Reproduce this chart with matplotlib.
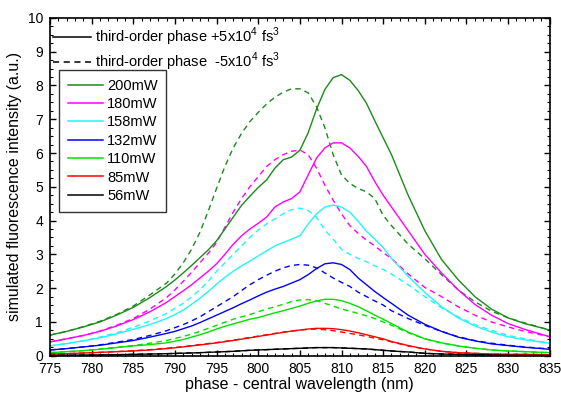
import matplotlib
matplotlib.use("Agg")
from matplotlib import pyplot as plt
from matplotlib.lines import Line2D
from matplotlib.ticker import MultipleLocator

plt.rcParams["font.family"] = ["Liberation Sans", "DejaVu Sans"]
plt.rcParams["mathtext.fontset"] = "custom"
plt.rcParams["mathtext.rm"] = "Liberation Sans"

# wavelength grid (nm)
wavelength = [775, 777, 779, 781, 783, 785, 787, 789,
              790, 791, 792, 793, 794, 795, 796, 797, 798, 799,
              800, 801, 802, 803, 804, 805, 806, 807, 808, 809, 810, 811, 812,
              813, 814, 815, 816,
              818, 820, 822, 824, 826, 828, 830, 832,
              835]

powers = ["200mW", "180mW", "158mW", "132mW", "110mW", "85mW", "56mW"]
colors = ["#1b8a1b", "#ff00ff", "#1ff7f7", "#0000ff", "#00e000", "#ff0000", "#000000"]

# third-order phase +5x10^4 fs^3 (solid)
p200 = [0.61, 0.72, 0.85, 1.0, 1.2, 1.43, 1.72, 2.05,
        2.24, 2.45, 2.67, 2.9, 3.13, 3.4, 3.75, 4.1, 4.45, 4.72,
        4.98, 5.2, 5.55, 5.8, 5.88, 6.08, 6.6, 7.3, 7.88, 8.23, 8.32, 8.15, 7.85,
        7.47, 6.95, 6.45, 5.95,
        4.75, 3.7, 2.85, 2.25, 1.75, 1.38, 1.12, 0.95,
        0.76]
p180 = [0.41, 0.5, 0.6, 0.72, 0.88, 1.07, 1.3, 1.58,
        1.75, 1.92, 2.1, 2.3, 2.5, 2.72, 3.0, 3.3, 3.55, 3.75,
        3.92, 4.1, 4.4, 4.55, 4.65, 4.85, 5.35, 5.85, 6.15, 6.3, 6.3, 6.15, 5.9,
        5.6, 5.15, 4.75, 4.4,
        3.7, 3.0, 2.45, 1.95, 1.52, 1.2, 0.95, 0.78,
        0.56]
p158 = [0.29, 0.36, 0.44, 0.53, 0.65, 0.78, 0.92, 1.1,
        1.22, 1.35, 1.52, 1.7, 1.9, 2.12, 2.32, 2.5, 2.66, 2.8,
        2.95, 3.1, 3.25, 3.35, 3.45, 3.55, 3.9, 4.2, 4.4, 4.46, 4.4, 4.25, 3.98,
        3.68, 3.45, 3.2, 2.88,
        2.35, 1.87, 1.45, 1.12, 0.88, 0.7, 0.56, 0.47,
        0.37]
p132 = [0.17, 0.21, 0.26, 0.31, 0.38, 0.45, 0.55, 0.66,
        0.72, 0.8, 0.88, 0.98, 1.09, 1.2, 1.31, 1.42, 1.54, 1.65,
        1.77, 1.88, 1.97, 2.05, 2.15, 2.25, 2.4, 2.58, 2.72, 2.75, 2.7, 2.55, 2.3,
        2.1, 1.9, 1.72, 1.55,
        1.2, 0.93, 0.72, 0.55, 0.44, 0.35, 0.3, 0.25,
        0.19]
p110 = [0.09, 0.12, 0.15, 0.19, 0.24, 0.29, 0.33, 0.38,
        0.43, 0.48, 0.55, 0.62, 0.7, 0.79, 0.87, 0.94, 1.01, 1.08,
        1.13, 1.2, 1.27, 1.33, 1.4, 1.47, 1.55, 1.62, 1.67, 1.67, 1.63, 1.55, 1.45,
        1.33, 1.2, 1.08, 0.95,
        0.7, 0.5, 0.38, 0.29, 0.22, 0.17, 0.14, 0.12,
        0.09]
p85 = [0.05, 0.06, 0.08, 0.1, 0.12, 0.14, 0.17, 0.21,
       0.235, 0.26, 0.29, 0.32, 0.35, 0.38, 0.415, 0.45, 0.49, 0.53,
       0.57, 0.61, 0.65, 0.69, 0.73, 0.76, 0.79, 0.81, 0.81, 0.8, 0.77, 0.73, 0.68,
       0.62, 0.56, 0.5, 0.42,
       0.3, 0.2, 0.13, 0.09, 0.07, 0.05, 0.04, 0.04,
       0.03]
p56 = [0.01, 0.015, 0.02, 0.025, 0.03, 0.04, 0.05, 0.06,
       0.067, 0.075, 0.082, 0.09, 0.1, 0.11, 0.12, 0.13, 0.145, 0.16,
       0.17, 0.18, 0.19, 0.2, 0.21, 0.22, 0.23, 0.24, 0.24, 0.24, 0.23, 0.22, 0.21,
       0.2, 0.18, 0.16, 0.14,
       0.11, 0.07, 0.05, 0.04, 0.03, 0.02, 0.015, 0.01,
       0.01]

# third-order phase -5x10^4 fs^3 (dashed)
m200 = [0.61, 0.72, 0.86, 1.02, 1.22, 1.47, 1.8, 2.15,
        2.42, 2.75, 3.15, 3.65, 4.28, 4.95, 5.6, 6.15, 6.58, 6.93,
        7.2, 7.45, 7.65, 7.8, 7.9, 7.9, 7.78, 7.37, 6.75, 5.95, 5.35, 5.1, 4.95,
        4.85, 4.65, 4.15, 3.85,
        3.3, 2.87, 2.4, 1.95, 1.6, 1.32, 1.12, 0.97,
        0.76]
m180 = [0.41, 0.5, 0.6, 0.73, 0.9, 1.1, 1.38, 1.72,
        1.95, 2.2, 2.47, 2.75, 3.03, 3.35, 3.8, 4.25, 4.65, 5.0,
        5.3, 5.6, 5.8, 5.95, 6.05, 6.09, 5.95, 5.55, 5.05, 4.6, 4.2, 3.85, 3.62,
        3.42, 3.25, 3.05, 2.88,
        2.42, 2.02, 1.75, 1.45, 1.2, 1.0, 0.85, 0.72,
        0.56]
m158 = [0.29, 0.36, 0.44, 0.55, 0.68, 0.84, 1.03, 1.25,
        1.4, 1.55, 1.74, 1.95, 2.2, 2.5, 2.75, 3.0, 3.25, 3.5,
        3.72, 3.9, 4.05, 4.2, 4.32, 4.37, 4.3, 4.1, 3.72, 3.45, 3.15, 3.0, 2.88,
        2.78, 2.66, 2.55, 2.42,
        2.1, 1.75, 1.42, 1.15, 0.92, 0.75, 0.6, 0.5,
        0.37]
m132 = [0.17, 0.21, 0.26, 0.32, 0.4, 0.48, 0.6, 0.74,
        0.83, 0.92, 1.03, 1.15, 1.3, 1.45, 1.6, 1.75, 1.93, 2.1,
        2.25, 2.38, 2.5, 2.6, 2.67, 2.7, 2.68, 2.6, 2.45, 2.3, 2.17, 2.05, 1.88,
        1.75, 1.62, 1.5, 1.33,
        1.1, 0.9, 0.72, 0.56, 0.45, 0.37, 0.31, 0.26,
        0.2]
m110 = [0.09, 0.12, 0.15, 0.2, 0.25, 0.3, 0.37, 0.45,
        0.51, 0.57, 0.64, 0.72, 0.81, 0.9, 0.99, 1.08, 1.15, 1.22,
        1.3, 1.38, 1.45, 1.52, 1.6, 1.65, 1.66, 1.63, 1.55, 1.47, 1.38, 1.32, 1.25,
        1.18, 1.1, 1.0, 0.9,
        0.68, 0.5, 0.38, 0.29, 0.22, 0.17, 0.14, 0.12,
        0.09]
m85 = [0.05, 0.06, 0.08, 0.1, 0.12, 0.15, 0.18, 0.22,
       0.245, 0.27, 0.3, 0.33, 0.36, 0.39, 0.425, 0.46, 0.5, 0.54,
       0.58, 0.62, 0.66, 0.7, 0.73, 0.76, 0.78, 0.79, 0.77, 0.74, 0.7, 0.66, 0.62,
       0.57, 0.52, 0.47, 0.41,
       0.29, 0.2, 0.13, 0.09, 0.07, 0.05, 0.04, 0.04,
       0.03]
m56 = p56

plus_series = [p200, p180, p158, p132, p110, p85, p56]
minus_series = [m200, m180, m158, m132, m110, m85, m56]

fig = plt.figure(figsize=(5.61, 3.97), dpi=100)
ax = fig.add_axes([0.089, 0.104, 0.891, 0.851])

dash = (0, (4, 3))
for col, ys in zip(colors, minus_series):
    ax.plot(wavelength, ys, color=col, lw=1.0, linestyle=dash)
for col, ys in zip(colors, plus_series):
    ax.plot(wavelength, ys, color=col, lw=1.0)

ax.set_xlim(775, 835)
ax.set_ylim(0, 10)
ax.xaxis.set_major_locator(MultipleLocator(5))
ax.xaxis.set_minor_locator(MultipleLocator(1))
ax.yaxis.set_major_locator(MultipleLocator(1))
ax.yaxis.set_minor_locator(MultipleLocator(0.25))
ax.tick_params(which="both", direction="in", top=True, right=True, labelsize=10)
ax.tick_params(which="major", length=4, width=1)
ax.tick_params(which="minor", length=2.5, width=0.8)
ax.tick_params(axis="y", pad=5)
ax.tick_params(axis="x", pad=4.5)
for sp in ax.spines.values():
    sp.set_linewidth(1.2)

ax.set_xlabel("phase - central wavelength (nm)", fontsize=11.5, labelpad=1)
ax.set_ylabel("simulated fluorescence intensity (a.u.)", fontsize=11.5, labelpad=4)

style_handles = [Line2D([], [], color="black", lw=1.1),
                 Line2D([], [], color="black", lw=1.1, linestyle=dash)]
style_labels = [r"third-order phase +5x10$^{4}$ fs$^{3}$",
                r"third-order phase  -5x10$^{4}$ fs$^{3}$"]
leg1 = ax.legend(style_handles, style_labels, loc="upper left",
                 bbox_to_anchor=(0.0, 0.985), frameon=False, fontsize=10.5,
                 handlelength=2.6, handletextpad=0.3, labelspacing=0.17,
                 borderaxespad=0, borderpad=0.2)
ax.add_artist(leg1)

power_handles = [Line2D([], [], color=c, lw=1.1) for c in colors]
leg2 = ax.legend(power_handles, powers, loc="upper left",
                 bbox_to_anchor=(0.018, 0.846), fontsize=10.5, frameon=True,
                 fancybox=False, edgecolor="black", handlelength=2.4,
                 handletextpad=0.3, labelspacing=0.3, borderaxespad=0,
                 borderpad=0.6)
leg2.get_frame().set_linewidth(1.0)

fig.savefig("out.png", dpi=100)
